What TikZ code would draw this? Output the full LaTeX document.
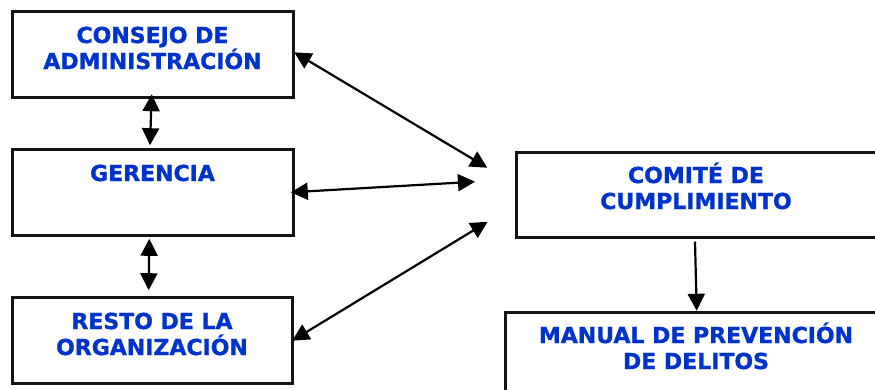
\documentclass[tikz,border=0pt]{standalone}
\usepackage{fontspec}
\setmainfont{DejaVu Sans}[BoldFeatures={FakeBold=1.2}]
\usetikzlibrary{arrows.meta,calc}
\definecolor{txtblue}{RGB}{0,51,204}
\definecolor{boxline}{RGB}{20,20,20}
\begin{document}
\begin{tikzpicture}[x=1pt,y=-1pt,
  box/.style={draw=boxline, line width=3pt, minimum width=#1, minimum height=86pt, inner sep=0pt, anchor=center},
  lbl/.style={font=\bfseries\fontsize{22}{26}\selectfont, text=txtblue, align=center, inner sep=0pt, anchor=base},
  link/.style={line width=2.2pt, {Triangle[length=17pt,width=17pt]}-{Triangle[length=17pt,width=17pt]}},
  onelink/.style={line width=2.2pt, -{Triangle[length=17pt,width=17pt]}}]
\useasboundingbox (0,0) rectangle (875,389);
% boxes
\node[box=281pt] (cons) at (152.5,54) {};
\node[box=281pt] (ger) at (152.5,192) {};
\node[box=280pt] (resto) at (152,340) {};
\node[box=360pt, minimum height=85pt] (com) at (696,194.5) {};
\node[box=382pt] (man) at (696,355) {};
% labels (anchor = baseline of last line)
\node[lbl] (tcons) at (152.5,69) {CONSEJO DE\\ADMINISTRACIÓN};
\node[lbl] (tger) at (152.5,181) {GERENCIA};
\node[lbl] (tresto) at (152,355) {RESTO DE LA\\ORGANIZACIÓN};
\node[lbl] (tcom) at (696,209) {COMITÉ DE\\CUMPLIMIENTO};
\node[lbl] (tman) at (696,369) {MANUAL DE PREVENCIÓN\\DE DELITOS};
% free ends near the committee
\coordinate (c2) at (487.3,167.7);
\coordinate (d2) at (475,181.7);
\coordinate (e2) at (487.7,221.7);
% connectors
\draw[link] ($(cons.south)+(-0.8,-4.3)$) -- ($(ger.north)+(-2.5,-2.3)$);
\draw[link] ($(ger.south)+(-3.2,2.3)$) -- ($(resto.north)+(-3.3,-5.3)$);
\draw[link] ($(cons.east)+(-0.3,-1.7)$) -- (c2);
\draw[link] ($(ger.east)+(-3.7,0.3)$) -- (d2);
\draw[link] ($(resto.east)+(-1.3,0.7)$) -- (e2);
\draw[onelink] ($(com.south)+(-1,3)$) -- ($(man.north)+(0.7,0.3)$);
\end{tikzpicture}
\end{document}
